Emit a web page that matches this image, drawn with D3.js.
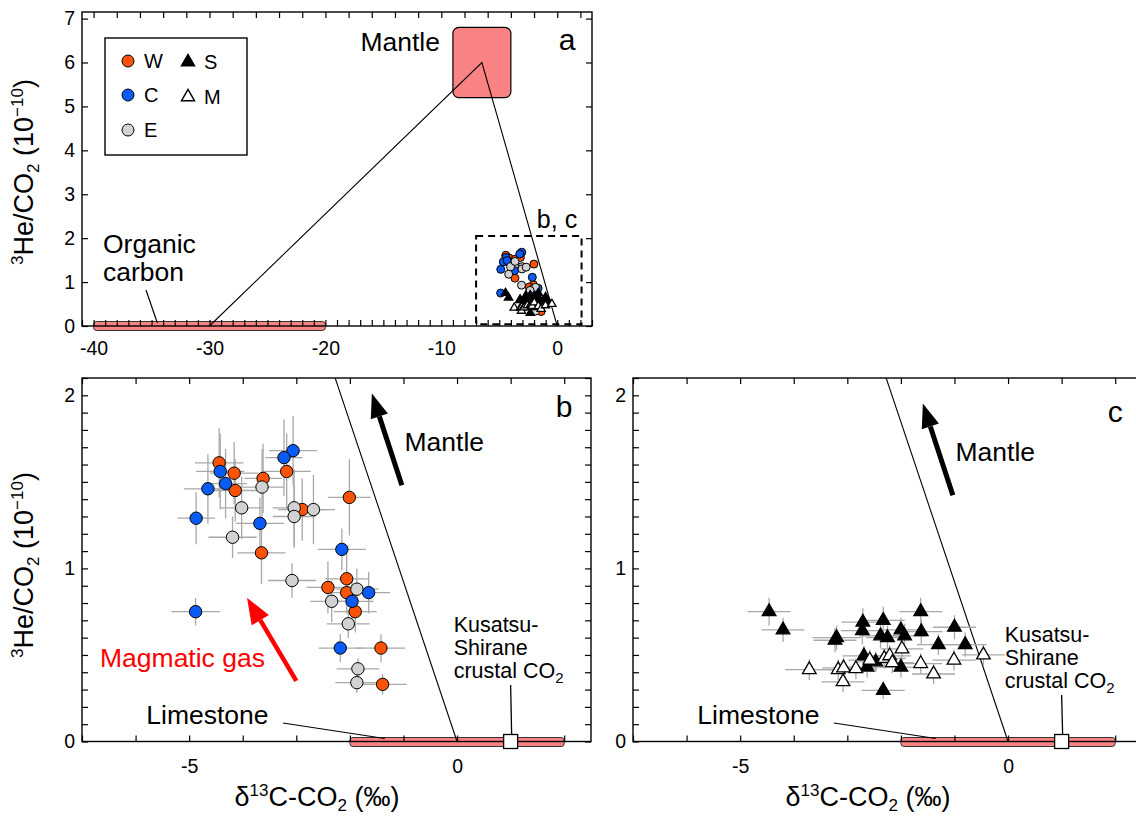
<!DOCTYPE html>
<html>
<head>
<meta charset="utf-8">
<script src="https://cdn.jsdelivr.net/npm/d3@7"></script>
<style>
  body { margin: 0; background: #fff; }
  svg { display: block; font-family: "Liberation Sans", Arial, sans-serif; }
</style>
</head>
<body>
<svg id="chart" width="1136" height="819"></svg>
<script>
// data: [d13C (permil), 3He/CO2 (1e-10), err d13C, err ratio]
var wData = [
  [-4.44, 1.61, 0.45, 0.20], [-4.16, 1.55, 0.45, 0.18], [-4.14, 1.45, 0.40, 0.18],
  [-3.62, 1.52, 0.35, 0.20], [-3.18, 1.56, 0.45, 0.22], [-3.65, 1.09, 0.45, 0.18],
  [-2.89, 1.34, 0.45, 0.18], [-2.01, 1.41, 0.40, 0.22], [-2.06, 0.94, 0.40, 0.15],
  [-2.41, 0.89, 0.40, 0.15], [-2.06, 0.86, 0.40, 0.12], [-1.90, 0.75, 0.40, 0.12],
  [-1.42, 0.54, 0.45, 0.08], [-1.39, 0.33, 0.45, 0.06]
];
var cData = [
  [-4.42, 1.56, 0.45, 0.22], [-4.65, 1.46, 0.45, 0.20], [-4.32, 1.49, 0.40, 0.20],
  [-4.87, 1.29, 0.35, 0.15], [-3.06, 1.68, 0.45, 0.20], [-3.23, 1.64, 0.35, 0.22],
  [-3.68, 1.26, 0.45, 0.15], [-2.15, 1.11, 0.45, 0.12], [-1.65, 0.86, 0.40, 0.12],
  [-1.96, 0.81, 0.40, 0.12], [-4.88, 0.75, 0.45, 0.08], [-2.18, 0.54, 0.40, 0.08]
];
var eData = [
  [-4.02, 1.35, 0.40, 0.18], [-4.19, 1.18, 0.45, 0.12], [-3.64, 1.47, 0.40, 0.22],
  [-3.04, 1.35, 0.40, 0.22], [-3.04, 1.30, 0.40, 0.18], [-2.68, 1.34, 0.40, 0.20],
  [-3.08, 0.93, 0.45, 0.10], [-1.87, 0.88, 0.40, 0.12], [-2.34, 0.81, 0.40, 0.12],
  [-2.03, 0.68, 0.40, 0.08], [-1.85, 0.42, 0.40, 0.06], [-1.87, 0.34, 0.40, 0.06]
];
var sData = [
  [-4.46, 0.75, 0.40, 0.08], [-4.20, 0.645, 0.40, 0.07], [-3.20, 0.60, 0.45, 0.07],
  [-3.23, 0.585, 0.40, 0.07], [-2.71, 0.69, 0.40, 0.08], [-2.72, 0.64, 0.40, 0.08],
  [-2.33, 0.70, 0.40, 0.08], [-2.38, 0.61, 0.40, 0.07], [-2.25, 0.60, 0.40, 0.07],
  [-2.00, 0.645, 0.40, 0.07], [-1.93, 0.61, 0.40, 0.07], [-1.63, 0.75, 0.40, 0.08],
  [-1.62, 0.635, 0.40, 0.07], [-1.30, 0.56, 0.40, 0.06], [-1.00, 0.66, 0.40, 0.07],
  [-0.80, 0.56, 0.40, 0.07], [-2.69, 0.495, 0.40, 0.06], [-2.63, 0.43, 0.40, 0.06],
  [-2.47, 0.46, 0.40, 0.06], [-2.00, 0.43, 0.40, 0.06], [-2.33, 0.295, 0.40, 0.05]
];
var mData = [
  [-3.71, 0.415, 0.45, 0.06], [-3.17, 0.415, 0.40, 0.06], [-3.07, 0.425, 0.40, 0.06],
  [-3.08, 0.345, 0.40, 0.06], [-2.84, 0.42, 0.40, 0.06], [-2.58, 0.47, 0.40, 0.06],
  [-2.31, 0.48, 0.40, 0.06], [-2.21, 0.495, 0.40, 0.06], [-2.16, 0.455, 0.40, 0.06],
  [-1.98, 0.535, 0.40, 0.07], [-1.63, 0.45, 0.40, 0.06], [-1.39, 0.39, 0.40, 0.06],
  [-1.01, 0.47, 0.40, 0.06], [-0.46, 0.50, 0.40, 0.06]
];

// end members
var mantleBox = [[-9, -4], [5.2, 6.8]];
var mantlePoint = [-6.5, 6];
var organicRange = [-40, -20];
var organicPoint = [-30, 0];
var limestoneRange = [-2, 2];
var limestonePoint = [0, 0];
var kusatsuPoint = [1.0, 0];

var aXLabels = [-40, -30, -20, -10, 0];
var aYLabels = [0, 1, 2, 3, 4, 5, 6, 7];
var bcXLabels = [-5, 0];
var bcYLabels = [0, 1, 2];

var colW = "#fa5308", colC = "#0a5af5", colE = "#d2d2d2";
var pink = "#f98383";
var font = "\"Liberation Sans\", Arial, sans-serif";
var labelSize = 26.5;

var svg = d3.select("#chart");

// ---------- helpers
function frame(g, x, y, o) {
  var x0 = x.range()[0], x1 = x.range()[1], y0 = y.range()[0], y1 = y.range()[1];
  // ticks (inward)
  var tl = o.tickLen;
  g.append("g").attr("transform", "translate(0," + y0 + ")")
    .call(d3.axisBottom(x).tickValues(o.xTicks).tickSize(-tl).tickFormat(""));
  g.append("g").attr("transform", "translate(0," + y1 + ")")
    .call(d3.axisTop(x).tickValues(o.xTicksTop || o.xTicks).tickSize(-tl).tickFormat(""));
  g.append("g").attr("transform", "translate(" + x0 + ",0)")
    .call(d3.axisLeft(y).tickValues(o.yTicks).tickSize(-tl).tickFormat(""));
  g.append("g").attr("transform", "translate(" + x1 + ",0)")
    .call(d3.axisRight(y).tickValues(o.yTicks).tickSize(-tl).tickFormat(""));
  // labels
  var xl = g.append("g").attr("transform", "translate(0," + y0 + ")")
    .call(d3.axisBottom(x).tickValues(o.xLabels).tickSize(0).tickPadding(o.xPad).tickFormat(d3.format("d")));
  var yl = g.append("g").attr("transform", "translate(" + x0 + ",0)")
    .call(d3.axisLeft(y).tickValues(o.yLabels).tickSize(0).tickPadding(o.yPad).tickFormat(d3.format("d")));
  g.selectAll(".domain").remove();
  g.selectAll(".tick line").attr("stroke", "#000").attr("stroke-width", 1.2);
  [xl, yl].forEach(function (s) {
    s.selectAll("text").attr("font-size", 19.5).attr("font-family", font).attr("fill", "#000");
  });
  xl.selectAll("text").text(function (d) { return d < 0 ? "-" + (-d) : d; });
  g.append("rect").attr("x", x0).attr("y", y1).attr("width", x1 - x0).attr("height", y0 - y1)
    .attr("fill", "none").attr("stroke", "#000").attr("stroke-width", 1.4);
}

function yTitle(cx, cy) {
  var t = svg.append("text").attr("transform", "translate(" + cx + "," + cy + ") rotate(-90)")
    .attr("text-anchor", "middle").attr("font-size", 27).attr("fill", "#000");
  t.append("tspan").attr("font-size", 17).attr("dy", -10).text("3");
  t.append("tspan").attr("dy", 10).text("He/CO");
  t.append("tspan").attr("font-size", 17).attr("dy", 6).text("2");
  t.append("tspan").attr("dy", -6).text(" (10");
  t.append("tspan").attr("font-size", 17).attr("dy", -10).text("\u221210");
  t.append("tspan").attr("dy", 10).text(")");
}

function xTitle(cx, cy) {
  var t = svg.append("text").attr("x", cx).attr("y", cy)
    .attr("text-anchor", "middle").attr("font-size", 27).attr("fill", "#000");
  t.append("tspan").text("\u03b4");
  t.append("tspan").attr("font-size", 17).attr("dy", -10).text("13");
  t.append("tspan").attr("dy", 10).text("C-CO");
  t.append("tspan").attr("font-size", 17).attr("dy", 5).text("2");
  t.append("tspan").attr("dy", -5).text(" (\u2030)");
}

function arrow(g, x, y, from, to, col, w, hw, hl) {
  var x1 = x(from[0]), y1 = y(from[1]), x2 = x(to[0]), y2 = y(to[1]);
  var ang = Math.atan2(y2 - y1, x2 - x1);
  var bx = x2 - hl * Math.cos(ang), by = y2 - hl * Math.sin(ang);
  g.append("line").attr("x1", x1).attr("y1", y1).attr("x2", bx).attr("y2", by)
    .attr("stroke", col).attr("stroke-width", w);
  var px = -Math.sin(ang) * hw / 2, py = Math.cos(ang) * hw / 2;
  g.append("path").attr("d", "M" + x2 + "," + y2 + "L" + (bx + px) + "," + (by + py) +
    "L" + (bx - px) + "," + (by - py) + "Z").attr("fill", col);
}

var tri = d3.symbol().type(d3.symbolTriangle);

function errorBars(g, x, y, data) {
  data.forEach(function (d) {
    g.append("line").attr("x1", x(d[0] - d[2])).attr("x2", x(d[0] + d[2]))
      .attr("y1", y(d[1])).attr("y2", y(d[1]));
    g.append("line").attr("x1", x(d[0])).attr("x2", x(d[0]))
      .attr("y1", y(d[1] - d[3])).attr("y2", y(d[1] + d[3]));
  });
  g.attr("stroke", "#a8a8a8").attr("stroke-width", 1.3);
}

function circles(g, x, y, data, col, r) {
  g.selectAll(null).data(data).enter().append("circle")
    .attr("cx", function (d) { return x(d[0]); }).attr("cy", function (d) { return y(d[1]); })
    .attr("r", r).attr("fill", col).attr("stroke", "#000").attr("stroke-width", 1);
}

function triangles(g, x, y, data, filled, size) {
  g.selectAll(null).data(data).enter().append("path")
    .attr("d", tri.size(size)())
    .attr("transform", function (d) { return "translate(" + x(d[0]) + "," + y(d[1]) + ")"; })
    .attr("fill", filled ? "#000" : "#fff").attr("stroke", "#000").attr("stroke-width", 1.3);
}

// ---------- panel a
var xa = d3.scaleLinear().domain([-41, 3]).range([82, 592]);
var ya = d3.scaleLinear().domain([0, 7.15]).range([326, 12]);
var ga = svg.append("g");

ga.append("rect")
  .attr("x", xa(mantleBox[0][0])).attr("y", ya(mantleBox[1][1]))
  .attr("width", xa(mantleBox[0][1]) - xa(mantleBox[0][0]))
  .attr("height", ya(mantleBox[1][0]) - ya(mantleBox[1][1]))
  .attr("rx", 6).attr("fill", pink).attr("stroke", "#000").attr("stroke-width", 1.2);
ga.append("rect")
  .attr("x", xa(organicRange[0])).attr("y", ya(0) - 4.5)
  .attr("width", xa(organicRange[1]) - xa(organicRange[0])).attr("height", 9)
  .attr("rx", 3).attr("fill", pink).attr("stroke", "#333").attr("stroke-width", 1);

ga.append("path")
  .attr("d", d3.line().x(function (d) { return xa(d[0]); }).y(function (d) { return ya(d[1]); })
    ([organicPoint, mantlePoint, limestonePoint]))
  .attr("fill", "none").attr("stroke", "#000").attr("stroke-width", 1.1);

ga.append("rect")
  .attr("x", xa(-7)).attr("y", ya(2.05))
  .attr("width", xa(2.1) - xa(-7)).attr("height", ya(0.04) - ya(2.05))
  .attr("fill", "none").attr("stroke", "#000").attr("stroke-width", 2).attr("stroke-dasharray", "7,5");

frame(ga, xa, ya, {
  tickLen: 6, xTicks: d3.range(-41, 4, 1), xTicksTop: d3.range(-40, 3, 2),
  yTicks: d3.range(0, 8, 1), xLabels: aXLabels, yLabels: aYLabels, xPad: 15, yPad: 7
});

var pa = ga.append("g");
circles(pa, xa, ya, wData, colW, 4);
circles(pa, xa, ya, cData, colC, 4);
circles(pa, xa, ya, eData, colE, 4);
triangles(pa, xa, ya, sData, true, 30);
triangles(pa, xa, ya, mData, false, 30);

// legend
var lg = ga.append("g");
lg.append("rect").attr("x", 105).attr("y", 38).attr("width", 142).attr("height", 117)
  .attr("fill", "#fff").attr("stroke", "#000").attr("stroke-width", 1.4);
var legItems = [
  { lab: "W", col: colW, kind: "c", x: 128, y: 61 },
  { lab: "C", col: colC, kind: "c", x: 128, y: 95 },
  { lab: "E", col: colE, kind: "c", x: 128, y: 130 },
  { lab: "S", kind: "s", x: 188, y: 62 },
  { lab: "M", kind: "m", x: 188, y: 97 }
];
legItems.forEach(function (it) {
  if (it.kind === "c") {
    lg.append("circle").attr("cx", it.x).attr("cy", it.y).attr("r", 6)
      .attr("fill", it.col).attr("stroke", "#000").attr("stroke-width", 1);
  } else {
    lg.append("path").attr("d", tri.size(75)()).attr("transform", "translate(" + it.x + "," + it.y + ")")
      .attr("fill", it.kind === "s" ? "#000" : "#fff").attr("stroke", "#000").attr("stroke-width", 1.4);
  }
  lg.append("text").attr("x", it.x + 16).attr("y", it.y + 7).attr("font-size", 20).text(it.lab);
});

ga.append("text").attr("x", 440).attr("y", 51).attr("text-anchor", "end").attr("font-size", labelSize).text("Mantle");
ga.append("text").attr("x", 567).attr("y", 50).attr("text-anchor", "middle").attr("font-size", 30).text("a");
ga.append("text").attr("x", 557).attr("y", 228).attr("text-anchor", "middle").attr("font-size", 25).text("b, c");
ga.append("text").attr("x", 103).attr("y", 253).attr("font-size", labelSize).text("Organic");
ga.append("text").attr("x", 103).attr("y", 281).attr("font-size", labelSize).text("carbon");
ga.append("line").attr("x1", 146).attr("y1", 290).attr("x2", xa(-34.5)).attr("y2", ya(0) - 3)
  .attr("stroke", "#000").attr("stroke-width", 1.2);

yTitle(33, 172);

// ---------- panels b & c
function detailPanel(x0, labelChar, dy, pointSets) {
  var x = d3.scaleLinear().domain([-7, 2.5]).range([x0, x0 + 509]);
  var y = d3.scaleLinear().domain([0, 2.1]).range([741.5, 378]);
  var g = svg.append("g");
  var clipId = "clip" + labelChar;
  g.append("clipPath").attr("id", clipId).append("rect")
    .attr("x", x.range()[0]).attr("y", y.range()[1])
    .attr("width", 509).attr("height", y.range()[0] - y.range()[1]);

  g.append("rect")
    .attr("x", x(limestoneRange[0])).attr("y", y(0) - 4)
    .attr("width", x(limestoneRange[1]) - x(limestoneRange[0])).attr("height", 9)
    .attr("rx", 3).attr("fill", pink).attr("stroke", "#333").attr("stroke-width", 1);

  g.append("line").attr("clip-path", "url(#" + clipId + ")")
    .attr("x1", x(mantlePoint[0])).attr("y1", y(mantlePoint[1]))
    .attr("x2", x(limestonePoint[0])).attr("y2", y(limestonePoint[1]))
    .attr("stroke", "#000").attr("stroke-width", 1.1);

  frame(g, x, y, {
    tickLen: 6, xTicks: d3.range(-7, 3, 1), yTicks: d3.range(0, 2.11, 0.1),
    xLabels: bcXLabels, yLabels: bcYLabels, xPad: 18, yPad: 7
  });

  // Kusatsu-Shirane crustal CO2
  g.append("line").attr("x1", x(kusatsuPoint[0])).attr("x2", x(kusatsuPoint[0]) + 1)
    .attr("y1", 685 + dy).attr("y2", y(0) - 7).attr("stroke", "#000").attr("stroke-width", 1.3);
  g.append("rect").attr("x", x(kusatsuPoint[0]) - 7).attr("y", y(0) - 7)
    .attr("width", 14).attr("height", 14).attr("fill", "#fff").attr("stroke", "#000").attr("stroke-width", 1.3);
  var kx = x(kusatsuPoint[0]) - 57;
  g.append("text").attr("x", kx).attr("y", 632 + dy).attr("font-size", 21.5).text("Kusatsu-");
  g.append("text").attr("x", kx).attr("y", 655 + dy).attr("font-size", 21.5).text("Shirane");
  var ct = g.append("text").attr("x", kx).attr("y", 678 + dy).attr("font-size", 21.5);
  ct.append("tspan").text("crustal CO");
  ct.append("tspan").attr("font-size", 15).attr("dy", 5).text("2");

  // Limestone
  g.append("text").attr("x", x(-5.8)).attr("y", 724).attr("font-size", labelSize).text("Limestone");
  g.append("line").attr("x1", x(-3.25)).attr("y1", 723).attr("x2", x(-1.35)).attr("y2", y(0) - 3)
    .attr("stroke", "#000").attr("stroke-width", 1.2);

  // Mantle arrow
  arrow(g, x, y, [-1.03, 1.48 - dy / 172.75], [-1.59, 2.01 - dy / 172.75], "#000", 5, 18, 24);
  g.append("text").attr("x", x(-0.98)).attr("y", 451 + dy).attr("font-size", labelSize).text("Mantle");
  g.append("text").attr("x", x(2.0)).attr("y", 417 + dy / 2).attr("text-anchor", "middle")
    .attr("font-size", 30).text(labelChar);

  pointSets(g, x, y);
  return { x: x, y: y, g: g };
}

var pb = detailPanel(82, "b", 0, function (g, x, y) {
  errorBars(g.append("g"), x, y, wData.concat(cData, eData));
  circles(g.append("g"), x, y, wData, colW, 6.2);
  circles(g.append("g"), x, y, cData, colC, 6.2);
  circles(g.append("g"), x, y, eData, colE, 6.2);
  arrow(g, x, y, [-3.0, 0.35], [-3.92, 0.83], "#ff0000", 4.5, 20, 26);
  g.append("text").attr("x", 100).attr("y", 667).attr("font-size", labelSize).attr("fill", "#ff0000").text("Magmatic gas");
});
yTitle(33, 565);
xTitle(317, 806);

var pc = detailPanel(633, "c", 10, function (g, x, y) {
  errorBars(g.append("g"), x, y, sData.concat(mData));
  triangles(g.append("g"), x, y, sData, true, 80);
  triangles(g.append("g"), x, y, mData, false, 80);
});
xTitle(868, 806);
</script>
</body>
</html>
